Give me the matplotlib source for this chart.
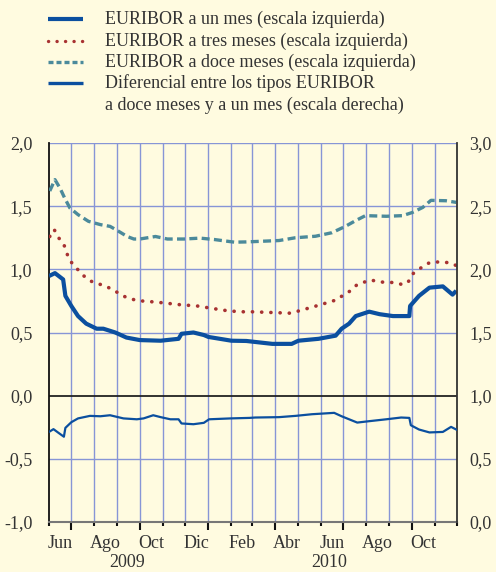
import matplotlib
matplotlib.use("Agg")
import matplotlib.pyplot as plt
import matplotlib.dates as mdates
from matplotlib.lines import Line2D
import pandas as pd

# ---------------- data ----------------
d1m = ["2009-06-01","2009-06-09","2009-06-20","2009-06-23","2009-07-01","2009-07-10","2009-07-21",
       "2009-08-04","2009-08-13","2009-08-29","2009-09-13","2009-10-01","2009-10-29","2009-11-22",
       "2009-11-26","2009-12-12","2009-12-26","2010-01-01","2010-02-01","2010-02-21","2010-03-28",
       "2010-04-23","2010-05-02","2010-05-29","2010-06-21","2010-06-29","2010-07-09","2010-07-18",
       "2010-08-05","2010-08-19","2010-09-06","2010-09-28","2010-09-29","2010-10-11","2010-10-25",
       "2010-11-12","2010-11-25","2010-11-30"]
v1m = [0.947,0.97,0.92,0.79,0.71,0.63,0.57,0.53,0.53,0.50,0.46,0.44,0.435,0.45,0.49,0.50,0.48,0.465,
       0.435,0.433,0.41,0.41,0.435,0.45,0.475,0.53,0.57,0.63,0.665,0.645,0.63,0.63,0.71,0.79,0.855,
       0.865,0.80,0.83]

d3m = ["2009-06-02","2009-06-08","2009-06-13","2009-06-20","2009-06-24","2009-06-27","2009-07-03",
       "2009-07-11","2009-07-18","2009-07-26","2009-08-04","2009-08-14","2009-08-25","2009-09-03",
       "2009-09-12","2009-09-23","2009-10-03","2009-10-24","2009-11-24","2009-12-17","2010-01-07",
       "2010-01-29","2010-02-17","2010-02-28","2010-04-21","2010-05-02","2010-05-23","2010-06-12",
       "2010-06-23","2010-07-02","2010-07-11","2010-07-20","2010-08-07","2010-08-19","2010-09-09",
       "2010-09-20","2010-09-28","2010-10-03","2010-10-11","2010-10-20","2010-10-29","2010-11-21",
       "2010-11-30"]
v3m = [1.26,1.315,1.255,1.21,1.15,1.09,1.04,0.99,0.947,0.91,0.887,0.874,0.84,0.81,0.78,0.76,0.75,
       0.74,0.72,0.71,0.69,0.67,0.664,0.664,0.653,0.67,0.705,0.74,0.76,0.80,0.83,0.88,0.916,0.90,
       0.895,0.877,0.91,0.966,1.0,1.04,1.06,1.053,1.03]

d12m = ["2009-06-02","2009-06-09","2009-06-16","2009-06-22","2009-06-29","2009-07-10","2009-07-24",
        "2009-08-09","2009-08-22","2009-08-31","2009-09-14","2009-09-23","2009-10-01","2009-10-22",
        "2009-11-07","2009-11-29","2009-12-21","2010-01-09","2010-02-05","2010-02-21","2010-03-05",
        "2010-04-06","2010-04-28","2010-05-25","2010-06-16","2010-07-04","2010-07-18","2010-07-31",
        "2010-08-28","2010-09-19","2010-10-02","2010-10-16","2010-10-27","2010-11-16","2010-11-30"]
v12m = [1.62,1.71,1.64,1.565,1.486,1.433,1.38,1.354,1.34,1.31,1.26,1.24,1.24,1.26,1.24,1.24,1.247,
        1.236,1.215,1.217,1.22,1.228,1.25,1.262,1.29,1.34,1.386,1.425,1.42,1.425,1.45,1.49,1.546,
        1.543,1.53]

ddif = ["2009-06-01","2009-06-07","2009-06-13","2009-06-21","2009-06-23","2009-07-01","2009-07-10",
        "2009-07-26","2009-08-09","2009-08-22","2009-09-09","2009-09-27","2009-10-06","2009-10-19",
        "2009-10-29","2009-11-11","2009-11-22","2009-11-26","2009-12-12","2009-12-26","2010-01-02",
        "2010-01-31","2010-02-25","2010-03-05","2010-04-06","2010-04-28","2010-05-20","2010-06-19",
        "2010-06-29","2010-07-20","2010-08-05","2010-08-28","2010-09-17","2010-09-28","2010-09-30",
        "2010-10-11","2010-10-25","2010-11-12","2010-11-23","2010-11-30"]
vdif = [0.713,0.735,0.709,0.675,0.745,0.79,0.82,0.84,0.837,0.845,0.82,0.813,0.82,0.845,0.83,0.813,
        0.813,0.78,0.774,0.785,0.813,0.82,0.824,0.827,0.83,0.84,0.853,0.864,0.837,0.787,0.798,0.813,
        0.827,0.824,0.766,0.732,0.709,0.713,0.753,0.732]

month_labels = ["Jun","Ago","Oct","Dic","Feb","Abr","Jun","Ago","Oct"]
month_label_dates = ["2009-06-16","2009-08-16","2009-10-16","2009-12-16","2010-02-15",
                     "2010-04-16","2010-06-16","2010-08-16","2010-10-16"]
year_labels = ["2009","2010"]
year_label_dates = ["2009-09-14","2010-06-13"]
left_ticks = [2.0,1.5,1.0,0.5,0.0,-0.5,-1.0]
right_ticks = [3.0,2.5,2.0,1.5,1.0,0.5,0.0]
legend_labels = ["EURIBOR a un mes (escala izquierda)",
                 "EURIBOR a tres meses (escala izquierda)",
                 "EURIBOR a doce meses (escala izquierda)",
                 "Diferencial entre los tipos EURIBOR",
                 "a doce meses y a un mes (escala derecha)"]

# ---------------- style ----------------
BG = "#fffbe0"
C1 = "#0b4f9f"
C3 = "#a83232"
C12 = "#4b8a9b"
GRID = "#8795d6"
TXT = "#333333"
FS = 13
plt.rcParams["font.family"] = "Liberation Serif"

W, H = 496, 572
fig = plt.figure(figsize=(W/100, H/100), dpi=100, facecolor=BG)
ax = fig.add_axes([49/W, 1-522/H, (457-49)/W, (522-143)/H])
ax.set_facecolor(BG)
ax2 = ax.twinx()

toD = lambda L: pd.to_datetime(L)
xmin, xmax = pd.Timestamp("2009-06-01"), pd.Timestamp("2010-12-01")

# grid
months = pd.date_range("2009-06-01", "2010-12-01", freq="MS")
for m in months[1:-1]:
    ax.axvline(m, color=GRID, lw=1.0, zorder=1)
for y in [2.0, 1.5, 1.0, 0.5, -0.5]:
    ax.axhline(y, color=GRID, lw=1.0, zorder=1)
ax.axhline(0.0, color="#222222", lw=1.3, zorder=2)

ax.plot(toD(d12m), v12m, color=C12, lw=2.4, linestyle=(0, (2.4, 1.3)), zorder=3)
ax.plot(toD(d3m), v3m, color=C3, lw=2.6, linestyle=(0, (0.05, 2.5)),
        dash_capstyle="round", zorder=3)
ax.plot(toD(d1m), v1m, color=C1, lw=3.0, solid_capstyle="butt", solid_joinstyle="round", zorder=4)
ax2.plot(toD(ddif), vdif, color=C1, lw=1.6, solid_joinstyle="round", zorder=4)

ax.set_xlim(xmin, xmax)
ax.set_ylim(-1.0, 2.0)
ax2.set_ylim(0.0, 3.0)
ax2.set_xlim(xmin, xmax)

ax.set_yticks(left_ticks)
ax.set_yticklabels([f"{t:.1f}".replace(".", ",") for t in left_ticks], fontsize=FS, color=TXT)
ax2.set_yticks(right_ticks)
ax2.set_yticklabels([f"{t:.1f}".replace(".", ",") for t in right_ticks], fontsize=FS, color=TXT)
ax.tick_params(axis="y", length=0, pad=12)
ax2.tick_params(axis="y", length=0, pad=9)

# x ticks
ax.xaxis.set_major_locator(mdates.MonthLocator(bymonth=[1, 4, 7, 10]))
ax.xaxis.set_minor_locator(mdates.MonthLocator())
ax.xaxis.set_major_formatter(plt.NullFormatter())
ax.tick_params(axis="x", which="major", length=6, width=1.5, color="#111111", direction="out")
ax.tick_params(axis="x", which="minor", length=3, width=1.5, color="#111111", direction="out")
ax2.tick_params(axis="x", which="both", length=0)

for a in (ax, ax2):
    for s in a.spines.values():
        s.set_visible(False)
ax.spines["left"].set_visible(True)
ax.spines["left"].set_color("#111111")
ax.spines["left"].set_linewidth(1.3)
ax2.spines["right"].set_visible(True)
ax2.spines["right"].set_color("#333333")
ax2.spines["right"].set_linewidth(1.3)
ax.spines["bottom"].set_visible(True)
ax.spines["bottom"].set_color("#777777")
ax.spines["bottom"].set_linewidth(1.5)

trans = ax.get_xaxis_transform()
for lab, d in zip(month_labels, month_label_dates):
    ax.text(pd.Timestamp(d), -0.058, lab, transform=trans, ha="center", va="center",
            fontsize=FS, color=TXT)
for lab, d in zip(year_labels, year_label_dates):
    ax.text(pd.Timestamp(d), -0.108, lab, transform=trans, ha="center", va="center",
            fontsize=FS, color=TXT)

# legend (manual)
rows_y = [19, 41, 62, 83]
styles = [dict(color=C1, lw=3.0, solid_capstyle="butt"),
          dict(color=C3, lw=2.4, linestyle=(0, (0.05, 2.5)), dash_capstyle="round"),
          dict(color=C12, lw=2.4, linestyle=(0, (1.5, 0.9))),
          dict(color=C1, lw=2.4, solid_capstyle="butt")]
for yy, st in zip(rows_y, styles):
    fig.add_artist(Line2D([48/W, 83/W], [1-yy/H, 1-yy/H], transform=fig.transFigure, **st))
for yy, lab in zip([19, 41, 62, 83, 105], legend_labels):
    fig.text(105/W, 1-yy/H, lab, ha="left", va="center", fontsize=FS, color=TXT)

fig.savefig("out.png", dpi=100, facecolor=BG)
